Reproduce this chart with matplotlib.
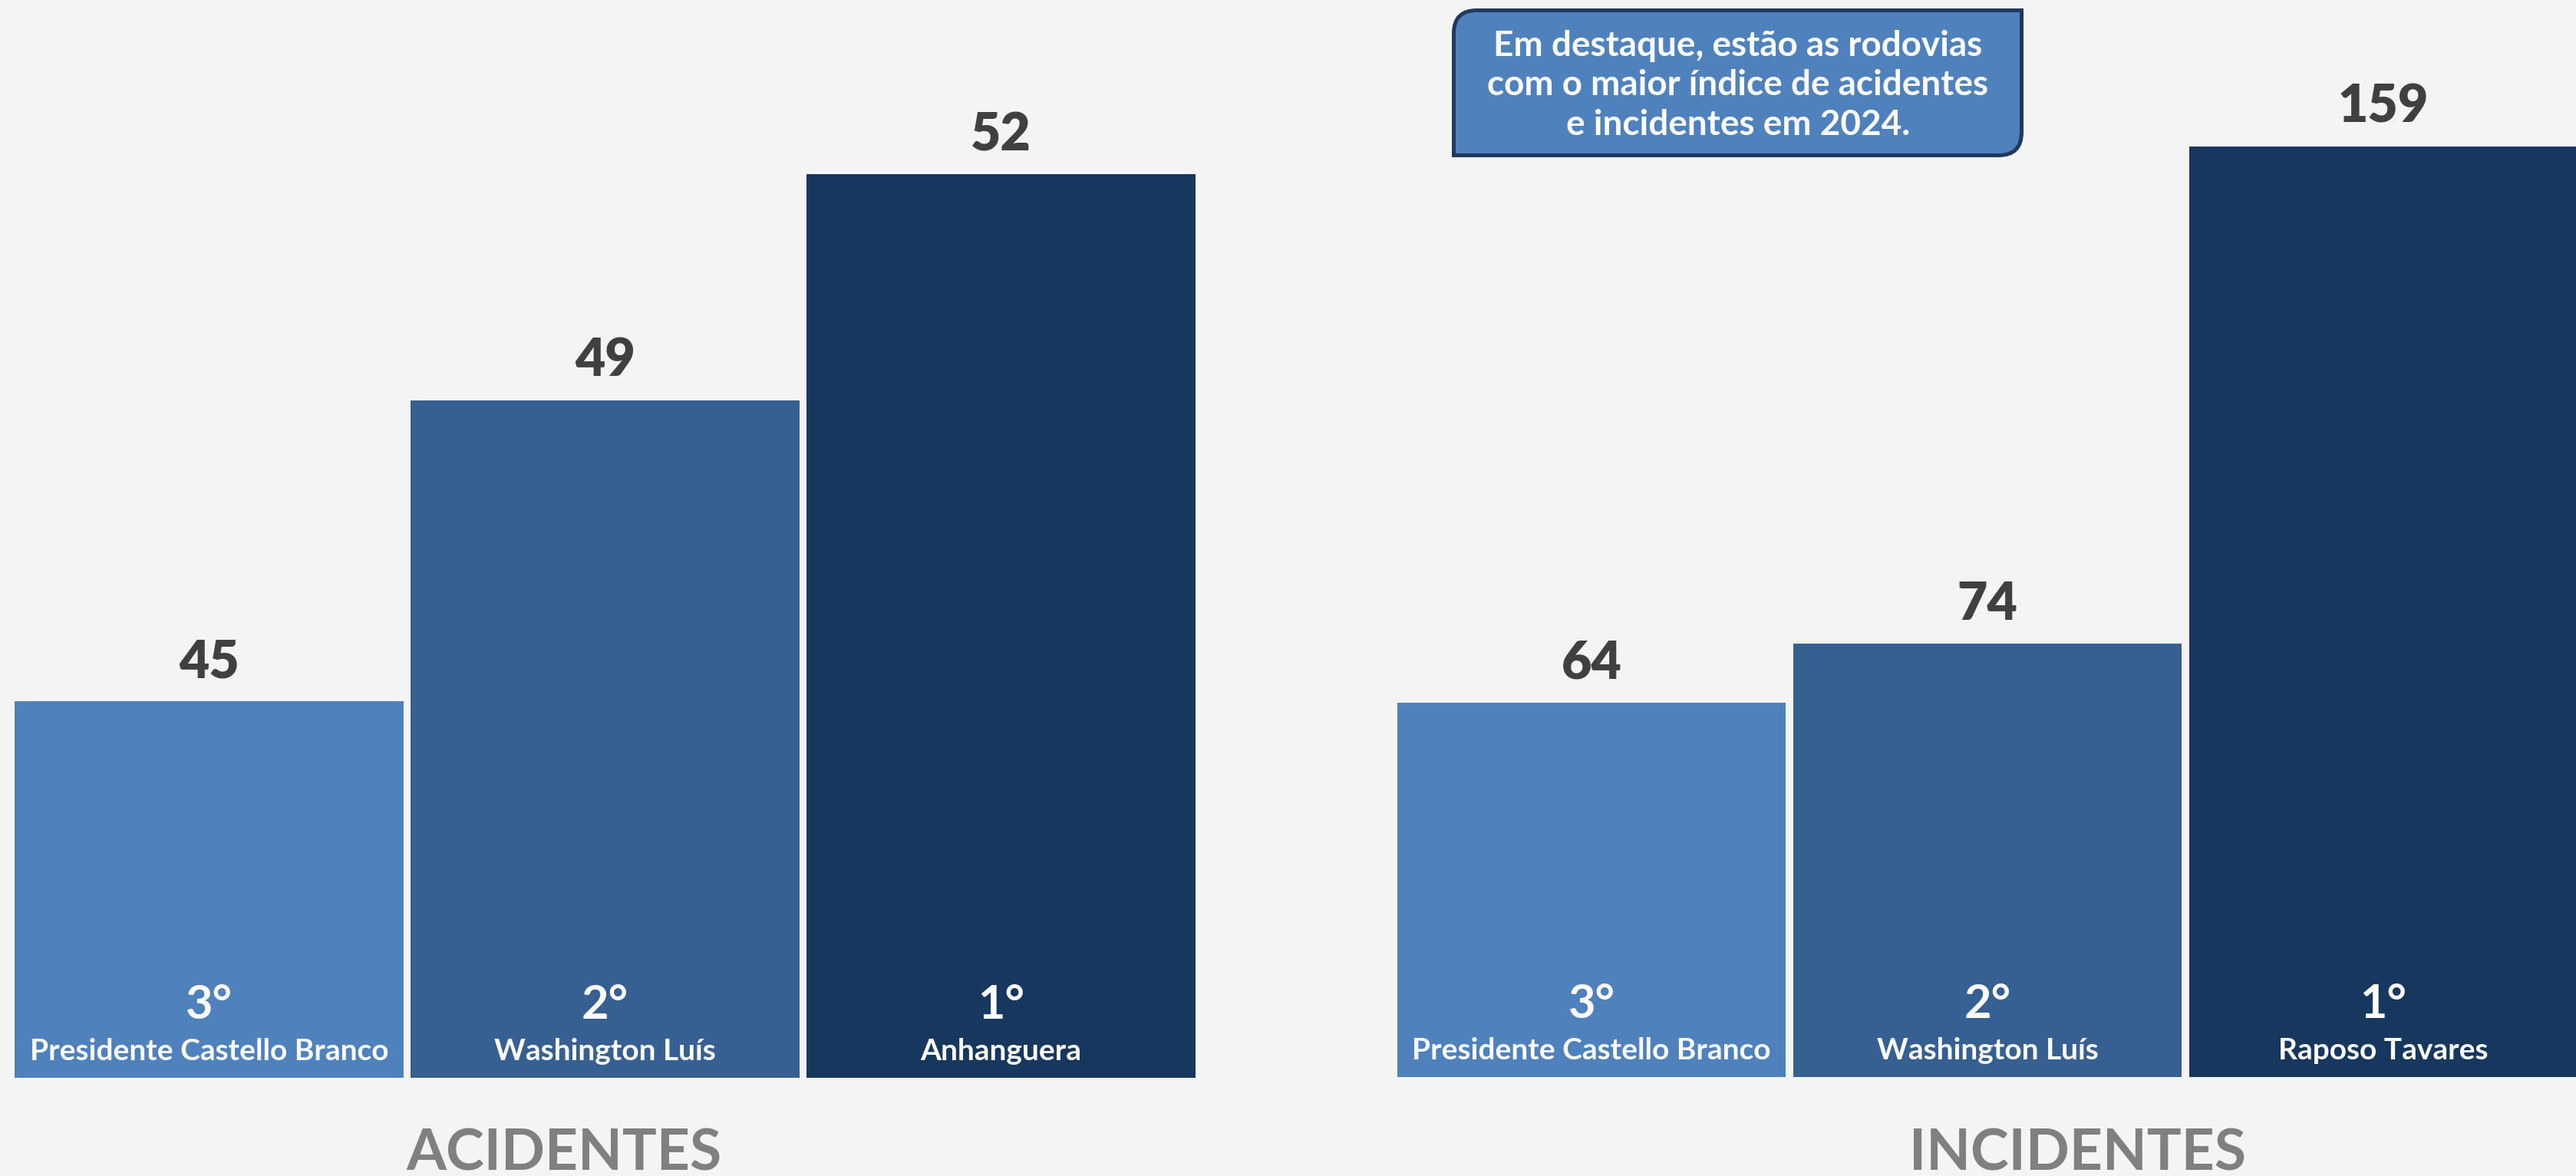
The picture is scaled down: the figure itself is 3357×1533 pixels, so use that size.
import matplotlib
matplotlib.use("Agg")
import matplotlib.pyplot as plt
from matplotlib.path import Path
from matplotlib.patches import PathPatch
from matplotlib.transforms import Affine2D

plt.rcParams["font.family"] = ["Lato", "DejaVu Sans"]
plt.rcParams["font.weight"] = "bold"

# data
ranks = ["3°", "2°", "1°"]
acid_roads = ["Presidente Castello Branco", "Washington Luís", "Anhanguera"]
acid_values = [45, 49, 52]
inc_roads = ["Presidente Castello Branco", "Washington Luís", "Raposo Tavares"]
inc_values = [64, 74, 159]
bar_colors = ["#4f81bd", "#376092", "#17375e"]
note_lines = ["Em destaque, estão as rodovias",
              "com o maior índice de acidentes",
              "e incidentes em 2024."]

W, H = 3357, 1533
bg = "#f4f4f5"
fig = plt.figure(figsize=(W / 100, H / 100), dpi=100, facecolor=bg)


def px_axes(left, right, bottom):
    # axes from pixel left..right, from pixel row `bottom` (top origin) to top of figure
    return fig.add_axes([left / W, (H - bottom) / H, (right - left) / W, bottom / H])


def draw_panel(ax, roads, values, y0, ytop, x_lo, x_hi):
    x = range(len(values))
    ax.bar(x, [v - y0 for v in values], bottom=y0, width=0.981,
           color=bar_colors, linewidth=0)
    ax.set_xlim(x_lo, x_hi)
    ax.set_ylim(y0, ytop)
    ax.axis("off")
    for i, v in enumerate(values):
        ax.annotate(str(v), (i, v), xytext=(0, 22.5), textcoords="offset points",
                    ha="center", va="baseline", fontsize=49, color="#404040",
                    fontweight="heavy")
        ax.annotate(ranks[i], (i, y0), xytext=(0, 55.5), textcoords="offset points",
                    ha="center", va="baseline", fontsize=44, color="white",
                    fontweight="bold")
        ax.annotate(roads[i], (i, y0), xytext=(0, 16.5), textcoords="offset points",
                    ha="center", va="baseline", fontsize=28, color="white",
                    fontweight="bold")


ax1 = px_axes(0, 1600, 1405)
draw_panel(ax1, acid_roads, acid_values, 40, 40 + 1405 / 98.14,
           -272.5 / 516, (1600 - 272.5) / 516)

ax2 = px_axes(1700, 3357, 1404)
draw_panel(ax2, inc_roads, inc_values, 0, 1404 / 7.63,
           (1700 - 2074) / 516, (3357 - 2074) / 516)

fig.text(735 / W, (H - 1526) / H, "ACIDENTES", ha="center", va="baseline",
         fontsize=54, color="#808080", fontweight="bold")
fig.text(2707 / W, (H - 1526) / H, "INCIDENTES", ha="center", va="baseline",
         fontsize=54, color="#808080", fontweight="bold")

# note box: rounded top-left and bottom-right corners
x0, x1, yt, yb, r = 1894.5, 2634.5, H - 13.5, H - 202.5, 30
verts = [(x0, yt - r), (x0, yt), (x0 + r, yt), (x1, yt), (x1, yb + r),
         (x1, yb), (x1 - r, yb), (x0, yb), (x0, yt - r)]
codes = [Path.MOVETO, Path.CURVE3, Path.CURVE3, Path.LINETO, Path.LINETO,
         Path.CURVE3, Path.CURVE3, Path.LINETO, Path.CLOSEPOLY]
box_tr = Affine2D().scale(1 / W, 1 / H) + fig.transFigure
fig.patches.append(PathPatch(Path(verts, codes), facecolor="#4f81bd",
                             edgecolor="#1f3a5f", linewidth=3.6, transform=box_tr))

for k, line in enumerate(note_lines):
    fig.text(2265 / W, (H - (73 + 51.5 * k)) / H, line, ha="center", va="baseline",
             fontsize=33, color="white", fontweight="bold")

fig.savefig("out.png", dpi=100, facecolor=bg)
